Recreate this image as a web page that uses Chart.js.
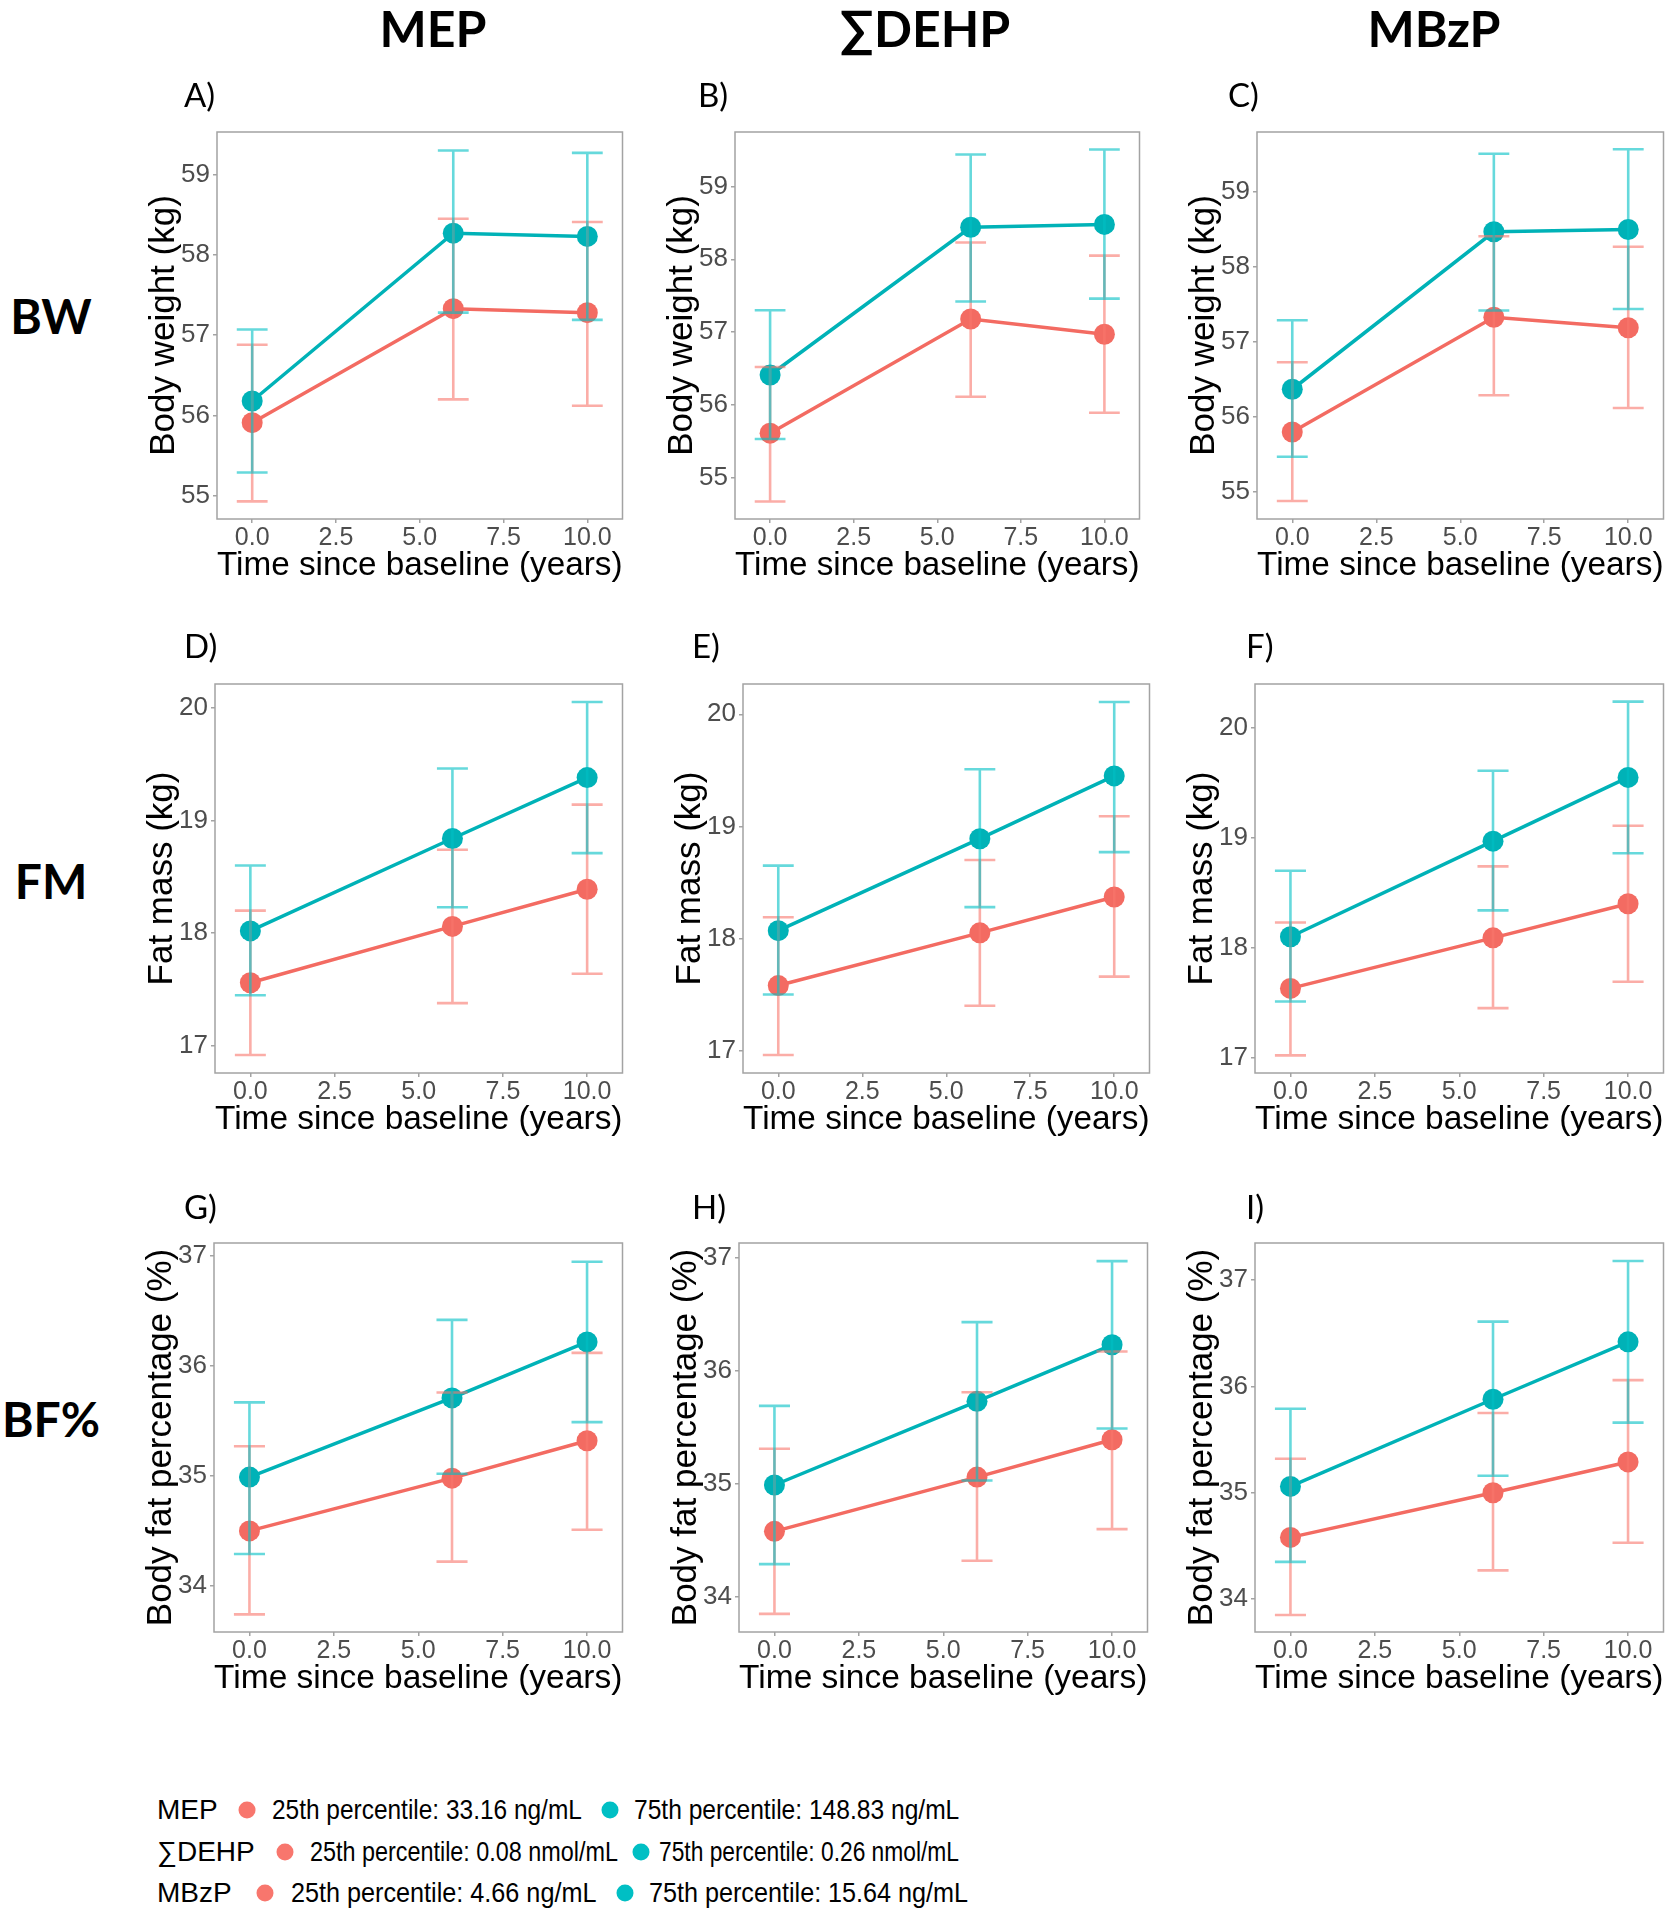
<!DOCTYPE html>
<html>
<head>
<meta charset="utf-8">
<script src="https://cdn.jsdelivr.net/npm/chart.js@4.4.1/dist/chart.umd.min.js"></script>
<style>
    body { margin: 0; background: #fff; }
    #page { position: relative; width: 1678px; height: 1920px; background: #fff; overflow: hidden; }
    canvas.panel { position: absolute; }
    .head { position: absolute; font-family: Lato, "Open Sans", sans-serif; font-weight: 700; font-size: 50px; color: #000; transform: translate(-50%, -50%); white-space: nowrap; }
    .rowlab { position: absolute; font-family: Lato, "Open Sans", sans-serif; font-weight: 700; font-size: 48px; color: #000; transform: translate(-50%, -50%); white-space: nowrap; }
    .plab { position: absolute; font-family: Lato, "Open Sans", sans-serif; font-size: 33px; color: #000; transform: translateY(-50%); white-space: nowrap; }
    .lg { position: absolute; font-family: "Liberation Sans", Arial, sans-serif; color: #000; white-space: nowrap; transform-origin: left center; }
    .lgkey { font-size: 28px; transform: translateY(-50%); }
    .lgtxt { font-size: 28px; }
    .dot { position: absolute; width: 17px; height: 17px; border-radius: 50%; transform: translate(-50%, -50%); }
</style>
</head>
<body>
<div id="page"></div>
<script>
const years = [0, 6, 10];
const xTicks = [0, 2.5, 5, 7.5, 10];
const bwTicks = [55, 56, 57, 58, 59];
const fmTicks = [17, 18, 19, 20];
const bfTicks = [34, 35, 36, 37];

const exposures = ['MEP', '∑DEHP', 'MBzP'];
const outcomes = ['BW', 'FM', 'BF%'];
const yTitles = ['Body weight (kg)', 'Fat mass (kg)', 'Body fat percentage (%)'];
const panelLetters = ['A)', 'B)', 'C)', 'D)', 'E)', 'F)', 'G)', 'H)', 'I)'];

// A) BW - MEP
const A_p25 = [55.91, 57.33, 57.28], A_p25_lo = [54.93, 56.20, 56.12], A_p25_hi = [56.88, 58.45, 58.41];
const A_p75 = [56.18, 58.27, 58.23], A_p75_lo = [55.29, 57.28, 57.19], A_p75_hi = [57.07, 59.30, 59.27];
// B) BW - DEHP
const B_p25 = [55.61, 57.18, 56.97], B_p25_lo = [54.67, 56.11, 55.89], B_p25_hi = [56.52, 58.23, 58.05];
const B_p75 = [56.41, 58.44, 58.48], B_p75_lo = [55.53, 57.42, 57.46], B_p75_hi = [57.30, 59.44, 59.51];
// C) BW - MBzP
const C_p25 = [55.80, 57.33, 57.19], C_p25_lo = [54.88, 56.29, 56.12], C_p25_hi = [56.73, 58.41, 58.27];
const C_p75 = [56.37, 58.47, 58.50], C_p75_lo = [55.47, 57.42, 57.44], C_p75_hi = [57.29, 59.51, 59.57];
// D) FM - MEP
const D_p25 = [17.56, 18.06, 18.39], D_p25_lo = [16.92, 17.38, 17.64], D_p25_hi = [18.20, 18.74, 19.14];
const D_p75 = [18.02, 18.84, 19.38], D_p75_lo = [17.45, 18.23, 18.71], D_p75_hi = [18.60, 19.46, 20.05];
// E) FM - DEHP
const E_p25 = [17.58, 18.05, 18.37], E_p25_lo = [16.96, 17.40, 17.66], E_p25_hi = [18.19, 18.70, 19.09];
const E_p75 = [18.07, 18.89, 19.45], E_p75_lo = [17.50, 18.28, 18.77], E_p75_hi = [18.65, 19.51, 20.11];
// F) FM - MBzP
const F_p25 = [17.63, 18.09, 18.40], F_p25_lo = [17.02, 17.45, 17.69], F_p25_hi = [18.23, 18.74, 19.11];
const F_p75 = [18.10, 18.97, 19.55], F_p75_lo = [17.51, 18.34, 18.86], F_p75_hi = [18.70, 19.61, 20.24];
// G) BF% - MEP
const G_p25 = [34.50, 34.98, 35.32], G_p25_lo = [33.74, 34.22, 34.51], G_p25_hi = [35.27, 35.76, 36.12];
const G_p75 = [34.99, 35.71, 36.22], G_p75_lo = [34.29, 35.02, 35.49], G_p75_hi = [35.67, 36.42, 36.95];
// H) BF% - DEHP
const H_p25 = [34.58, 35.06, 35.39], H_p25_lo = [33.85, 34.32, 34.60], H_p25_hi = [35.31, 35.81, 36.17];
const H_p75 = [34.99, 35.73, 36.23], H_p75_lo = [34.29, 35.03, 35.49], H_p75_hi = [35.69, 36.43, 36.97];
// I) BF% - MBzP
const I_p25 = [34.58, 35.00, 35.29], I_p25_lo = [33.85, 34.27, 34.53], I_p25_hi = [35.32, 35.75, 36.06];
const I_p75 = [35.06, 35.88, 36.42], I_p75_lo = [34.35, 35.16, 35.66], I_p75_hi = [35.79, 36.61, 37.18];

const legendKeys = ['MEP', '∑DEHP', 'MBzP'];
const legendP25 = ['25th percentile: 33.16 ng/mL', '25th percentile: 0.08 nmol/mL', '25th percentile: 4.66 ng/mL'];
const legendP75 = ['75th percentile: 148.83 ng/mL', '75th percentile: 0.26 nmol/mL', '75th percentile: 15.64 ng/mL'];

const RED = '#F8766D', TEAL = '#00BFC4';

const panels = [
    { p25: [A_p25, A_p25_lo, A_p25_hi], p75: [A_p75, A_p75_lo, A_p75_hi], ticks: bwTicks, ymin: 54.71, ymax: 59.53 },
    { p25: [B_p25, B_p25_lo, B_p25_hi], p75: [B_p75, B_p75_lo, B_p75_hi], ticks: bwTicks, ymin: 54.43, ymax: 59.75 },
    { p25: [C_p25, C_p25_lo, C_p25_hi], p75: [C_p75, C_p75_lo, C_p75_hi], ticks: bwTicks, ymin: 54.64, ymax: 59.80 },
    { p25: [D_p25, D_p25_lo, D_p25_hi], p75: [D_p75, D_p75_lo, D_p75_hi], ticks: fmTicks, ymin: 16.76, ymax: 20.21 },
    { p25: [E_p25, E_p25_lo, E_p25_hi], p75: [E_p75, E_p75_lo, E_p75_hi], ticks: fmTicks, ymin: 16.80, ymax: 20.27 },
    { p25: [F_p25, F_p25_lo, F_p25_hi], p75: [F_p75, F_p75_lo, F_p75_hi], ticks: fmTicks, ymin: 16.86, ymax: 20.40 },
    { p25: [G_p25, G_p25_lo, G_p25_hi], p75: [G_p75, G_p75_lo, G_p75_hi], ticks: bfTicks, ymin: 33.58, ymax: 37.12 },
    { p25: [H_p25, H_p25_lo, H_p25_hi], p75: [H_p75, H_p75_lo, H_p75_hi], ticks: bfTicks, ymin: 33.69, ymax: 37.13 },
    { p25: [I_p25, I_p25_lo, I_p25_hi], p75: [I_p75, I_p75_lo, I_p75_hi], ticks: bfTicks, ymin: 33.69, ymax: 37.35 }
];

// plot box (chart area) positions on the page
const boxes = [
    [217, 627, 132, 519], [735, 1144, 132, 519], [1257, 1668, 132, 519],
    [215, 627, 684, 1073], [743, 1154, 684, 1073], [1255, 1668, 684, 1073],
    [214, 627, 1243, 1632], [739, 1152, 1243, 1632], [1255, 1668, 1243, 1632]
];
const labelPos = [[184, 94], [698, 94], [1228, 94], [184, 645], [692, 645], [1246, 645], [184, 1206], [692, 1206], [1246, 1206]];

const Y_W = 70, X_H = 64, PAD_T = 24, PAD_R = 6, CAP = 0.46;

const errorBars = {
    id: 'errorBars',
    afterDatasetsDraw(chart) {
        const { ctx, chartArea: a, scales: { x, y } } = chart;
        ctx.save();
        chart.data.datasets.forEach(ds => {
            ctx.strokeStyle = ds.errColor;
            ctx.lineWidth = 2.6;
            ds.data.forEach((p, i) => {
                const px = x.getPixelForValue(p.x);
                const xa = x.getPixelForValue(p.x - CAP), xb = x.getPixelForValue(p.x + CAP);
                const yl = y.getPixelForValue(ds.lo[i]), yh = y.getPixelForValue(ds.hi[i]);
                ctx.beginPath();
                ctx.moveTo(px, yl); ctx.lineTo(px, yh);
                ctx.moveTo(xa, yl); ctx.lineTo(xb, yl);
                ctx.moveTo(xa, yh); ctx.lineTo(xb, yh);
                ctx.stroke();
            });
        });
        ctx.strokeStyle = '#a3a3a3';
        ctx.lineWidth = 1.5;
        ctx.strokeRect(a.left, a.top, a.right - a.left, a.bottom - a.top);
        ctx.restore();
    }
};

const page = document.getElementById('page');

function addDiv(cls, text, x, y) {
    const d = document.createElement('div');
    d.className = cls;
    d.textContent = text;
    d.style.left = x + 'px';
    d.style.top = y + 'px';
    page.appendChild(d);
    return d;
}

// column and row headings
addDiv('head', exposures[0], 433, 28);
addDiv('head', exposures[1], 925, 28);
addDiv('head', exposures[2], 1434, 28);
addDiv('rowlab', outcomes[0], 51, 315);
addDiv('rowlab', outcomes[1], 51, 880);
addDiv('rowlab', outcomes[2], 51, 1418);

panels.forEach((p, k) => {
    const [L, R, T, B] = boxes[k];
    const cv = document.createElement('canvas');
    cv.className = 'panel';
    cv.width = (R - L) + Y_W + PAD_R;
    cv.height = (B - T) + PAD_T + X_H;
    cv.style.left = (L - Y_W) + 'px';
    cv.style.top = (T - PAD_T) + 'px';
    page.appendChild(cv);
    addDiv('plab', panelLetters[k], labelPos[k][0], labelPos[k][1]);

    const mk = (arr, col, errCol) => ({
        data: years.map((yr, i) => ({ x: yr, y: arr[0][i] })),
        lo: arr[1], hi: arr[2],
        borderColor: col, backgroundColor: col,
        pointBackgroundColor: col, pointBorderWidth: 0,
        pointRadius: 10.5, borderWidth: 3.5, tension: 0,
        errColor: errCol
    });

    new Chart(cv, {
        type: 'line',
        data: { datasets: [mk(p.p25, '#F36B62', 'rgba(248,118,109,0.6)'), mk(p.p75, '#00B2B7', 'rgba(0,191,196,0.6)')] },
        options: {
            responsive: false,
            animation: false,
            layout: { padding: { left: 0, top: PAD_T, right: PAD_R, bottom: 0 } },
            plugins: { legend: { display: false }, tooltip: { enabled: false } },
            scales: {
                x: {
                    type: 'linear', min: -1.05, max: 11.05,
                    afterBuildTicks: s => { s.ticks = xTicks.map(v => ({ value: v })); },
                    afterFit: s => { s.height = X_H; },
                    ticks: { callback: v => v.toFixed(1), color: '#4d4d4d', font: { family: 'Liberation Sans', size: 25 }, padding: 0, maxRotation: 0, autoSkip: false },
                    grid: { drawOnChartArea: false, drawTicks: true, tickLength: 4, color: '#a3a3a3', lineWidth: 1.5 },
                    border: { display: false },
                    title: { display: true, text: 'Time since baseline (years)', color: '#000', font: { family: 'Liberation Sans', size: 33.5, lineHeight: 1 }, padding: 0 }
                },
                y: {
                    type: 'linear', min: p.ymin, max: p.ymax,
                    afterBuildTicks: s => { s.ticks = p.ticks.map(v => ({ value: v })); },
                    afterFit: s => { s.width = Y_W; },
                    ticks: { callback: v => String(v), color: '#4d4d4d', font: { family: 'Liberation Sans', size: 26 }, padding: 3 },
                    grid: { drawOnChartArea: false, drawTicks: true, tickLength: 4, color: '#a3a3a3', lineWidth: 1.5 },
                    border: { display: false },
                    title: { display: true, text: yTitles[Math.floor(k / 3)], color: '#000', font: { family: 'Liberation Sans', size: 35, lineHeight: 1 }, padding: 0 }
                }
            }
        },
        plugins: [errorBars]
    });
});

// legend
const lgRows = [
    { y: 1810, d1: 247, t1: [272, 310], d2: 610, t2: [634, 325] },
    { y: 1852, d1: 285, t1: [310, 308], d2: 641, t2: [659, 300] },
    { y: 1893, d1: 265, t1: [291, 305], d2: 625, t2: [649, 319] }
];
function fitText(text, pos, y) {
    const d = addDiv('lg lgtxt', text, pos[0], y);
    const s = pos[1] / d.offsetWidth;
    d.style.transform = 'translateY(-50%) scaleX(' + s.toFixed(3) + ')';
}
lgRows.forEach((r, i) => {
    addDiv('lg lgkey', legendKeys[i], 157, r.y);
    const a = addDiv('dot', '', r.d1, r.y); a.style.background = RED;
    fitText(legendP25[i], r.t1, r.y);
    const b = addDiv('dot', '', r.d2, r.y); b.style.background = TEAL;
    fitText(legendP75[i], r.t2, r.y);
});
</script>
</body>
</html>
